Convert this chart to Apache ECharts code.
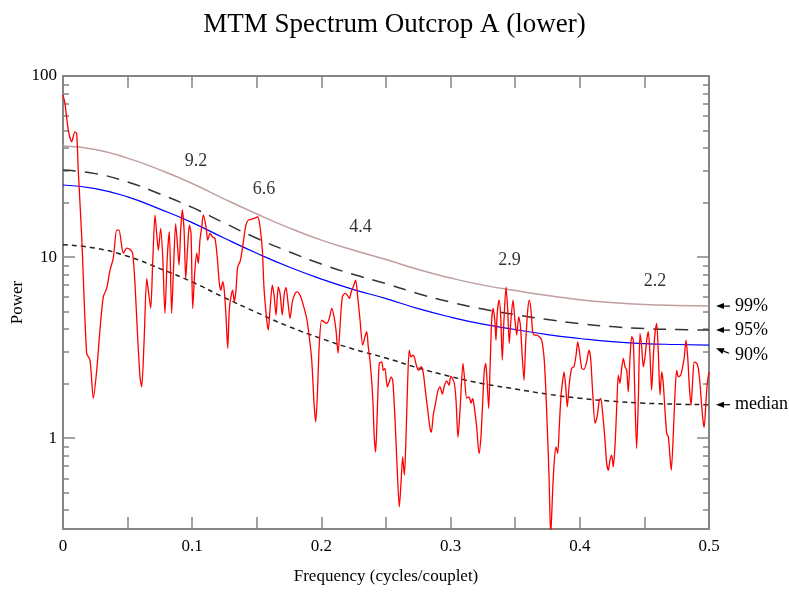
<!DOCTYPE html>
<html>
<head>
<meta charset="utf-8">
<title>MTM Spectrum Outcrop A (lower)</title>
<script src="https://cdn.jsdelivr.net/npm/echarts@6/dist/echarts.min.js"></script>
<style>
  html, body { margin: 0; padding: 0; background: #fff; }
  #chart { width: 789px; height: 593px; }
</style>
</head>
<body>
<div id="chart"></div>
<script>
// [frequency (cycles/couplet), power]
const spectrum = [
  [0, 78.5], [0.0015, 70.6], [0.0041, 50.3], [0.0067, 43.4], [0.0093, 49.2], [0.0106, 48.2], [0.0118, 30.3],
  [0.0145, 12.9], [0.0183, 2.94], [0.0209, 2.70], [0.0235, 1.66], [0.0261, 2.37], [0.0286, 3.95], [0.0312, 6.04],
  [0.0338, 6.71], [0.0364, 8.47], [0.0389, 9.84], [0.0416, 14.1], [0.0433, 14.1], [0.0467, 10.5], [0.0493, 11.2],
  [0.0519, 11.0], [0.0539, 10.5], [0.0557, 7.16], [0.0575, 3.95], [0.0596, 2.18], [0.0609, 1.92], [0.0627, 3.34],
  [0.0648, 7.62], [0.0660, 6.57], [0.0679, 5.21], [0.0694, 9.23], [0.0712, 17.1], [0.0725, 13.5], [0.0738, 10.9],
  [0.0756, 14.4], [0.0772, 10.0], [0.0789, 4.89], [0.0807, 10.0], [0.0823, 13.8], [0.0841, 4.89], [0.0854, 8.13],
  [0.0872, 15.3], [0.0885, 11.9], [0.0898, 9.03], [0.0911, 14.1], [0.0923, 18.2], [0.0937, 14.1], [0.0950, 7.62],
  [0.0965, 11.4], [0.0978, 15.0], [0.0991, 13.5], [0.1004, 5.21], [0.1019, 8.13], [0.1035, 10.5], [0.1047, 9.23],
  [0.1060, 12.4], [0.1074, 14.7], [0.1086, 17.1], [0.1107, 14.7], [0.1120, 12.4], [0.1138, 13.5], [0.1159, 12.9],
  [0.1176, 12.7], [0.1194, 10.0], [0.1210, 7.16], [0.1223, 6.57], [0.1236, 7.31], [0.1248, 6.57], [0.1262, 4.68],
  [0.1275, 3.13], [0.1287, 5.10], [0.1300, 6.04], [0.1313, 6.57], [0.1326, 5.66], [0.1339, 6.57], [0.1352, 8.84],
  [0.1370, 9.42], [0.1385, 10.7], [0.1401, 12.9], [0.1416, 15.0], [0.1434, 16.0], [0.1461, 16.2], [0.1486, 16.4],
  [0.1507, 16.7], [0.1525, 14.7], [0.1543, 10.9], [0.1556, 6.7], [0.1577, 4.49], [0.1589, 3.95], [0.1602, 5.10],
  [0.1620, 7.00], [0.1635, 6.04], [0.1649, 4.78], [0.1666, 6.85], [0.1680, 6.30], [0.1697, 4.78], [0.1713, 6.30],
  [0.1726, 6.80], [0.1741, 5.66], [0.1757, 4.58], [0.1775, 5.66], [0.1796, 6.30], [0.1813, 6.43], [0.1834, 6.17],
  [0.1860, 5.43], [0.1886, 4.58], [0.1906, 3.63], [0.1925, 2.70], [0.1943, 1.56], [0.1956, 1.23], [0.1968, 1.69],
  [0.1984, 3.34], [0.2002, 4.49], [0.2020, 4.39], [0.2041, 4.30], [0.2061, 4.58], [0.2080, 5.21], [0.2098, 4.68],
  [0.2113, 3.95], [0.2129, 2.94], [0.2144, 4.12], [0.2162, 6.04], [0.2183, 6.30], [0.2200, 6.17], [0.2216, 5.91],
  [0.2231, 6.43], [0.2247, 6.85], [0.2265, 7.46], [0.2281, 6.04], [0.2299, 4.49], [0.2320, 3.26], [0.2337, 3.63],
  [0.2351, 3.87], [0.2363, 3.19], [0.2376, 2.70], [0.2397, 1.69], [0.2409, 1.02], [0.2420, 0.840], [0.2433, 1.43],
  [0.2448, 2.59], [0.2467, 2.64], [0.2479, 2.37], [0.2492, 2.43], [0.2510, 1.92], [0.2526, 2.05], [0.2539, 2.18],
  [0.2552, 2.09], [0.2570, 1.26], [0.2587, 0.665], [0.2603, 0.417], [0.2616, 0.562], [0.2629, 0.788], [0.2642, 0.625],
  [0.2655, 1.02], [0.2668, 2.09], [0.2680, 3.06], [0.2693, 2.81], [0.2707, 2.87], [0.2719, 2.81], [0.2738, 2.48],
  [0.2755, 2.37], [0.2773, 2.48], [0.2789, 2.28], [0.2807, 1.77], [0.2823, 1.43], [0.2841, 1.13], [0.2851, 1.08],
  [0.2866, 1.34], [0.2885, 1.58], [0.2900, 1.80], [0.2918, 1.92], [0.2936, 1.75], [0.2951, 1.94], [0.2970, 2.07],
  [0.2988, 1.96], [0.3001, 2.20], [0.3016, 2.12], [0.3029, 2.01], [0.3042, 1.62], [0.3057, 1.01], [0.3073, 1.43],
  [0.3096, 2.59], [0.3109, 2.09], [0.3125, 1.66], [0.3142, 1.69], [0.3158, 1.56], [0.3171, 1.66], [0.3183, 1.49],
  [0.3202, 1.15], [0.3220, 0.823], [0.3235, 1.02], [0.3248, 1.56], [0.3261, 2.37], [0.3272, 2.59], [0.3282, 2.09],
  [0.3295, 1.46], [0.3305, 2.37], [0.3318, 4.49], [0.3330, 5.21], [0.3344, 4.30], [0.3351, 3.48], [0.3361, 4.89],
  [0.3375, 5.79], [0.3388, 4.68], [0.3400, 2.70], [0.3413, 4.49], [0.3429, 6.85], [0.3442, 5.10], [0.3454, 3.34],
  [0.3467, 4.49], [0.3483, 5.79], [0.3498, 4.49], [0.3512, 3.71], [0.3527, 4.68], [0.3540, 4.21], [0.3553, 2.94],
  [0.3568, 2.09], [0.3581, 3.34], [0.3597, 5.10], [0.3609, 5.79], [0.3622, 5.10], [0.3635, 3.87], [0.3648, 3.71],
  [0.3666, 3.71], [0.3687, 3.63], [0.3705, 3.48], [0.3723, 2.81], [0.3736, 1.92], [0.3749, 1.11], [0.3762, 0.611],
  [0.3775, 0.291], [0.3790, 0.516], [0.3803, 0.756], [0.3816, 0.895], [0.3829, 0.823], [0.3841, 1.15], [0.3854, 1.69],
  [0.3868, 2.09], [0.3878, 2.32], [0.3891, 1.92], [0.3903, 1.49], [0.3919, 2.01], [0.3937, 2.43], [0.3955, 2.48],
  [0.3971, 2.87], [0.3984, 3.40], [0.3996, 3.06], [0.4015, 2.43], [0.4033, 2.40], [0.4053, 2.64], [0.4071, 3.06],
  [0.4084, 2.76], [0.4100, 1.77], [0.4118, 1.21], [0.4136, 1.34], [0.4151, 1.62], [0.4162, 1.66], [0.4177, 1.37],
  [0.4195, 0.975], [0.4208, 0.725], [0.4221, 0.665], [0.4234, 0.756], [0.4247, 0.805], [0.4259, 0.694], [0.4272, 0.895],
  [0.4286, 1.49], [0.4298, 2.23], [0.4311, 2.01], [0.4324, 2.43], [0.4337, 2.76], [0.4350, 2.48], [0.4363, 2.37],
  [0.4375, 1.80], [0.4389, 2.81], [0.4402, 3.63], [0.4414, 3.48], [0.4427, 1.62], [0.4440, 0.877], [0.4453, 1.62],
  [0.4466, 3.79], [0.4479, 3.19], [0.4491, 2.48], [0.4505, 2.81], [0.4518, 3.48], [0.4530, 3.87], [0.4543, 2.94],
  [0.4556, 1.84], [0.4569, 2.81], [0.4582, 3.79], [0.4595, 4.30], [0.4608, 2.94], [0.4621, 1.73], [0.4634, 2.32],
  [0.4646, 2.01], [0.4659, 1.43], [0.4673, 1.06], [0.4685, 1.02], [0.4698, 0.788], [0.4708, 0.665], [0.4724, 1.06],
  [0.4737, 1.77], [0.4750, 2.37], [0.4763, 2.18], [0.4781, 2.23], [0.4796, 2.48], [0.4809, 2.81], [0.4822, 3.48],
  [0.4835, 2.81], [0.4848, 1.92], [0.4861, 1.52], [0.4874, 2.09], [0.4886, 2.64], [0.4905, 2.59], [0.4917, 2.43],
  [0.4930, 2.01], [0.4944, 1.49], [0.4956, 1.21], [0.4963, 1.15], [0.4977, 1.62], [0.4987, 2.01], [0.5, 2.32]
]

// smooth background / confidence curves
const curveFreq = [0, 0.025, 0.05, 0.075, 0.1, 0.125, 0.15, 0.175, 0.2, 0.225, 0.25,
  0.275, 0.3, 0.325, 0.35, 0.375, 0.4, 0.425, 0.45, 0.475, 0.5]
const conf99 = [41.0, 39.3, 35.2, 30.3, 25.5, 20.9, 17.3, 14.5, 12.4, 10.9, 9.69,
  8.53, 7.66, 7.00, 6.53, 6.13, 5.82, 5.61, 5.47, 5.40, 5.36]
const conf95 = [30.3, 28.9, 26.0, 22.3, 18.8, 15.4, 12.7, 10.7, 9.15, 8.01, 7.14,
  6.28, 5.64, 5.16, 4.81, 4.52, 4.29, 4.13, 4.03, 3.98, 3.95]
const conf90 = [25.0, 23.9, 21.5, 18.4, 15.5, 12.7, 10.5, 8.81, 7.56, 6.61, 5.90,
  5.19, 4.66, 4.26, 3.98, 3.73, 3.55, 3.41, 3.33, 3.29, 3.26]
const median = [11.7, 11.2, 10.1, 8.64, 7.28, 5.97, 4.94, 4.13, 3.55, 3.10, 2.77,
  2.44, 2.19, 2.00, 1.87, 1.75, 1.66, 1.60, 1.56, 1.54, 1.53]

// period labels above the peaks
const peakLabels = ['9.2', '6.6', '4.4', '2.9', '2.2']
const peakFreq = [0.103, 0.1556, 0.2303, 0.3456, 0.4582]
const peakPower = [33.7, 23.6, 14.7, 9.63, 7.32]

const levelLabels = ['99%', '95%', '90%', 'median']

const majorTicks = [1, 10, 100]
const minorTicks = [0.4, 0.5, 0.6, 0.7, 0.8, 0.9, 2, 3, 4, 5, 6, 7, 8, 9, 20, 30, 40, 50, 60, 70, 80, 90]
const yMin = 0.315
const yMax = 100

const serif = "'Liberation Serif', 'Times New Roman', 'DejaVu Serif', serif"
const frame = '#858585'

function curve(values) {
  return curveFreq.map((f, i) => [f, values[i]])
}

function xAxisDef(position, showLabel) {
  return {
    type: 'value',
    position: position,
    min: 0,
    max: 0.5,
    interval: 0.05,
    axisLine: { show: true, onZero: false, lineStyle: { color: frame, width: 2 } },
    axisTick: { show: true, inside: true, length: 12, lineStyle: { color: frame, width: 1.5 } },
    axisLabel: showLabel ? {
      show: true,
      margin: 9,
      color: '#000',
      fontFamily: serif,
      fontSize: 17,
      formatter: (v) => {
        let t = Math.round(v * 100)
        return t % 10 === 0 ? String(t / 100) : ''
      },
    } : { show: false },
    splitLine: { show: false },
  }
}

function yAxisDef(position, ticks, len, showLabel) {
  return {
    type: 'log',
    logBase: 10,
    position: position,
    min: yMin,
    max: yMax,
    axisLine: { show: true, onZero: false, lineStyle: { color: frame, width: 2 } },
    axisTick: { show: true, inside: true, length: len, customValues: ticks, lineStyle: { color: frame, width: 1.5 } },
    axisLabel: showLabel ? {
      show: true,
      customValues: majorTicks,
      margin: 6,
      color: '#000',
      fontFamily: serif,
      fontSize: 17,
      formatter: (v) => String(v),
    } : { show: false },
    splitLine: { show: false },
  }
}

let yLeft = yAxisDef('left', majorTicks, 12, true)
yLeft.name = 'Power'
yLeft.nameLocation = 'middle'
yLeft.nameGap = 37
yLeft.nameMoveOverlap = false
yLeft.nameTextStyle = { fontFamily: serif, fontSize: 17, color: '#000' }

let xBottom = xAxisDef('bottom', true)
xBottom.name = 'Frequency (cycles/couplet)'
xBottom.nameLocation = 'middle'
xBottom.nameGap = 39
xBottom.nameMoveOverlap = false
xBottom.nameTextStyle = { fontFamily: serif, fontSize: 17, color: '#000' }

let option = {
  animation: false,
  backgroundColor: '#fff',
  title: {
    text: 'MTM Spectrum Outcrop A (lower)',
    left: 'center',
    top: 6,
    textStyle: { fontFamily: serif, fontSize: 27, fontWeight: 'normal', color: '#000' },
  },
  grid: { left: 63, right: 80, top: 76, bottom: 64, containLabel: false, outerBoundsMode: 'none' },
  xAxis: [xBottom, xAxisDef('top', false)],
  yAxis: [
    yLeft,
    yAxisDef('left', minorTicks, 6, false),
    yAxisDef('right', majorTicks, 12, false),
    yAxisDef('right', minorTicks, 6, false),
  ],
  series: [
    {
      name: '99%',
      type: 'line',
      data: curve(conf99),
      smooth: true,
      showSymbol: false,
      lineStyle: { color: '#bf9f9f', width: 1.5 },
      z: 2,
    },
    {
      name: '95%',
      type: 'line',
      data: curve(conf95),
      smooth: true,
      showSymbol: false,
      lineStyle: { color: '#333', width: 1.5, type: [13, 9] },
      z: 2,
    },
    {
      name: '90%',
      type: 'line',
      data: curve(conf90),
      smooth: true,
      showSymbol: false,
      lineStyle: { color: '#0000ff', width: 1.2 },
      z: 2,
    },
    {
      name: 'median',
      type: 'line',
      data: curve(median),
      smooth: true,
      showSymbol: false,
      lineStyle: { color: '#222', width: 1.5, type: [5, 4] },
      z: 2,
    },
    {
      name: 'spectrum',
      type: 'line',
      data: spectrum,
      smooth: 0.25,
      showSymbol: false,
      lineStyle: { color: '#ff0000', width: 1.3 },
      z: 3,
    },
    {
      name: 'periods',
      type: 'scatter',
      symbolSize: 1,
      itemStyle: { color: 'rgba(0,0,0,0)' },
      data: peakLabels.map((t, i) => ({ name: t, value: [peakFreq[i], peakPower[i]] })),
      label: {
        show: true,
        position: 'inside',
        formatter: (p) => p.name,
        fontFamily: serif,
        fontSize: 18,
        color: '#000',
      },
      z: 4,
    },
  ],
}

let chart = echarts.init(document.getElementById('chart'))
chart.setOption(option)

// arrows and names at the right end of each curve
let levels = [conf99, conf95, conf90, median]
let graphics = []
levels.forEach((arr, i) => {
  let p = chart.convertToPixel({ xAxisIndex: 0, yAxisIndex: 0 }, [0.5, arr[arr.length - 1]])
  let y = p[1]
  let textY = y
  let head = [p[0] + 7, y]
  let tail = [p[0] + 21, y]
  if (i === 2) {
    textY = y + 10
    head = [p[0] + 7, y + 3]
    tail = [p[0] + 20, y + 8]
  }
  let dx = head[0] - tail[0]
  let dy = head[1] - tail[1]
  let len = Math.sqrt(dx * dx + dy * dy)
  dx /= len
  dy /= len
  let base = [head[0] - dx * 8, head[1] - dy * 8]
  graphics.push({
    type: 'line',
    shape: { x1: tail[0], y1: tail[1], x2: base[0], y2: base[1] },
    style: { stroke: '#000', lineWidth: 1.2 },
  })
  graphics.push({
    type: 'polygon',
    shape: { points: [head, [base[0] - dy * 3, base[1] + dx * 3], [base[0] + dy * 3, base[1] - dx * 3]] },
    style: { fill: '#000' },
  })
  graphics.push({
    type: 'text',
    x: p[0] + 26,
    y: textY,
    style: {
      text: levelLabels[i],
      fontFamily: serif,
      fontSize: 18,
      fill: '#000',
      verticalAlign: 'middle',
      align: 'left',
    },
  })
})
chart.setOption({ graphic: graphics })
</script>
</body>
</html>
